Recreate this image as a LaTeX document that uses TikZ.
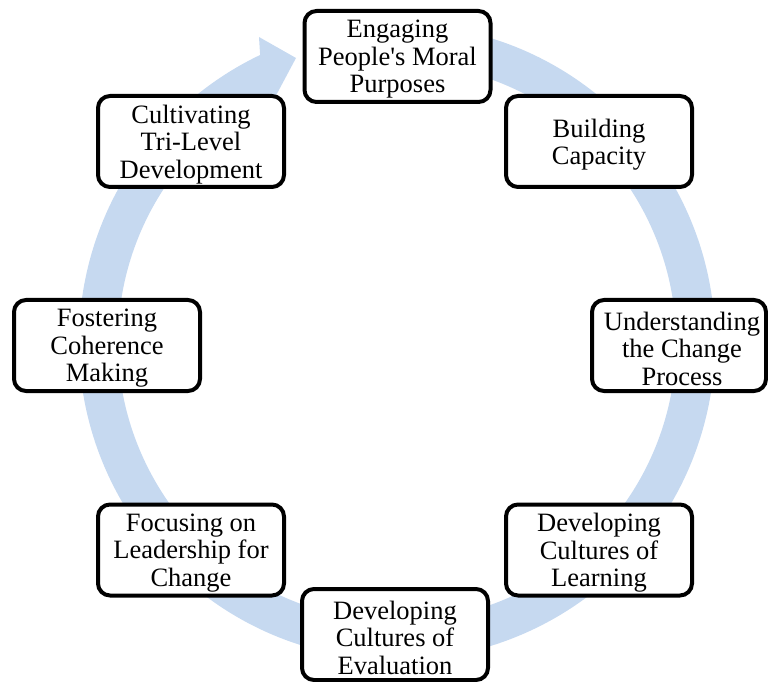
\documentclass[tikz,border=0pt]{standalone}
\usepackage{fontspec}
\setmainfont{Liberation Serif}
\definecolor{ringblue}{RGB}{198,217,240}
\begin{document}
\begin{tikzpicture}[x=1pt,y=1pt,
  box/.style={draw=black, line width=4pt, rounded corners=12pt, fill=white,
    minimum width=186pt, minimum height=91pt, inner sep=0pt},
  lbl/.style={align=center, inner sep=0pt, yshift=-3pt,
    font=\fontsize{26.5}{27.5}\selectfont}]
\useasboundingbox (0,0) rectangle (768,681);
\coordinate (C) at (397,339);
\coordinate (barbout) at (259,644);
\coordinate (tip) at (296,623);
\coordinate (barbin) at (272,578);
\fill[ringblue] ([shift={(79:318pt)}]C) arc[start angle=79, end angle=-244.5, radius=318pt]
  -- (barbout) -- (tip) -- (barbin)
  -- ([shift={(-243:279pt)}]C) arc[start angle=-243, end angle=78.6, radius=279pt] -- cycle;
\node[box, label={[lbl]center:{Engaging\\People\textquotesingle s Moral\\Purposes}}] (n1) at (397.5,624.5) {};
\node[box, label={[lbl]center:{Building\\Capacity}}] (n2) at (599,539.5) {};
\node[box, minimum width=174pt, label={[lbl, xshift=3pt]center:{Understanding\\the Change\\Process}}] (n3) at (679,335.5) {};
\node[box, label={[lbl]center:{Developing\\Cultures of\\Learning}}] (n4) at (599,131) {};
\node[box, label={[lbl]center:{Developing\\Cultures of\\Evaluation}}] (n5) at (395,46.5) {};
\node[box, label={[lbl]center:{Focusing on\\Leadership for\\Change}}] (n6) at (191,131) {};
\node[box, label={[lbl]center:{Fostering\\Coherence\\Making}}] (n7) at (107,335.5) {};
\node[box, label={[lbl]center:{Cultivating\\Tri-Level\\Development}}] (n8) at (191,539.5) {};
\end{tikzpicture}
\end{document}
